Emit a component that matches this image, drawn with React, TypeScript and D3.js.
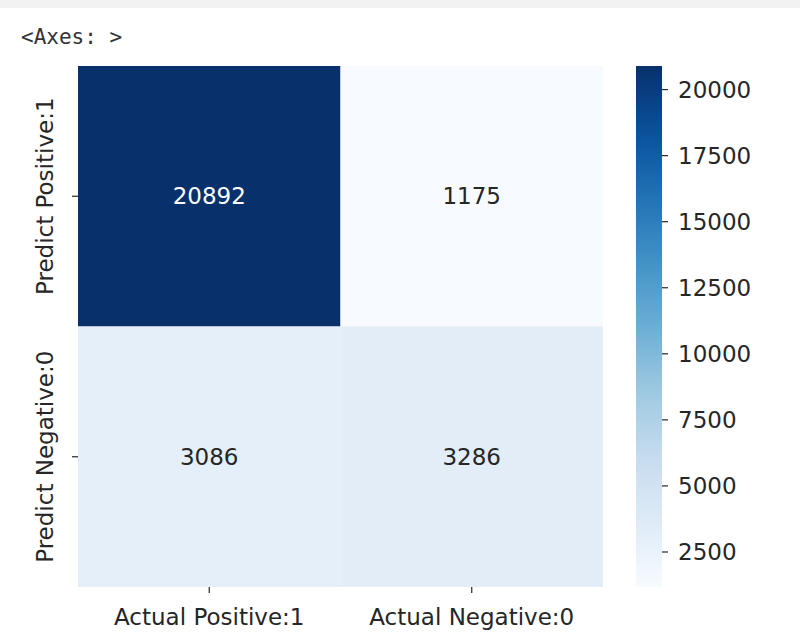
import React from "react";
import * as d3 from "d3";

const rowLabels = ["Predict Positive:1", "Predict Negative:0"];
const colLabels = ["Actual Positive:1", "Actual Negative:0"];
const row0Values = [20892, 1175];
const row1Values = [3086, 3286];
const colorbarTicks = [2500, 5000, 7500, 10000, 12500, 15000, 17500, 20000];
const bluesStops = ["#f7fbff", "#deebf7", "#c6dbef", "#9ecae1", "#6baed6", "#4292c6", "#2171b5", "#08519c", "#08306b"];

const W = 800;
const H = 644;
const left = 78, right = 603, top = 66, bottom = 587;
const cbLeft = 636, cbRight = 662;
const fontFamily = "DejaVu Sans, sans-serif";
const fs = 23;

export default function App() {
  const matrix = [row0Values, row1Values];
  const all = matrix.flat();
  const vmin = d3.min(all) as number;
  const vmax = d3.max(all) as number;
  const interp = d3.scaleLinear<string>()
    .domain(bluesStops.map((_, i) => i / (bluesStops.length - 1)))
    .range(bluesStops)
    .interpolate(d3.interpolateRgb);
  const color = (v: number) => interp((v - vmin) / (vmax - vmin));
  const lum = (v: number) => {
    const c = d3.rgb(color(v));
    const f = (x: number) => { x /= 255; return x <= 0.03928 ? x / 12.92 : Math.pow((x + 0.055) / 1.055, 2.4); };
    return 0.2126 * f(c.r) + 0.7152 * f(c.g) + 0.0722 * f(c.b);
  };

  const x = d3.scaleBand<number>().domain([0, 1]).range([left, right]);
  const y = d3.scaleBand<number>().domain([0, 1]).range([top, bottom]);
  const cbY = d3.scaleLinear().domain([vmin, vmax]).range([bottom, top]);
  const gradStops = d3.range(0, 1.0001, 0.05);

  return (
    <svg width={W} height={H} style={{ position: "absolute", left: 0, top: 0, background: "#fff" }} fontFamily={fontFamily}>
      <defs>
        <linearGradient id="cbgrad" x1="0" y1="1" x2="0" y2="0">
          {gradStops.map((t, i) => (
            <stop key={i} offset={t} stopColor={interp(t)} />
          ))}
        </linearGradient>
      </defs>
      <rect x={0} y={0} width={W} height={8} fill="#f2f2f2" />
      <text x={21} y={44} fontFamily="DejaVu Sans Mono, monospace" fontSize={21} fill="#333">{"<Axes: >"}</text>
      {matrix.map((row, ri) =>
        row.map((v, ci) => (
          <g key={`${ri}-${ci}`}>
            <rect x={x(ci)} y={y(ri)} width={x.bandwidth()} height={y.bandwidth()} fill={color(v)} />
            <text
              x={(x(ci) as number) + x.bandwidth() / 2}
              y={(y(ri) as number) + y.bandwidth() / 2}
              textAnchor="middle"
              dominantBaseline="central"
              fontSize={fs}
              fill={lum(v) > 0.408 ? "#262626" : "#ffffff"}
            >{v}</text>
          </g>
        ))
      )}
      {rowLabels.map((l, i) => {
        const cy = (y(i) as number) + y.bandwidth() / 2;
        return (
          <g key={l}>
            <line x1={left - 6} x2={left} y1={cy} y2={cy} stroke="#262626" strokeWidth={1.2} />
            <text transform={`translate(${left - 25},${cy}) rotate(-90)`} textAnchor="middle" fontSize={fs} fill="#262626">{l}</text>
          </g>
        );
      })}
      {colLabels.map((l, i) => {
        const cx = (x(i) as number) + x.bandwidth() / 2;
        return (
          <g key={l}>
            <line x1={cx} x2={cx} y1={bottom} y2={bottom + 6} stroke="#262626" strokeWidth={1.2} />
            <text x={cx} y={bottom + 38} textAnchor="middle" fontSize={fs} fill="#262626">{l}</text>
          </g>
        );
      })}
      <rect x={cbLeft} y={top} width={cbRight - cbLeft} height={bottom - top} fill="url(#cbgrad)" />
      {colorbarTicks.map((t) => (
        <g key={t}>
          <line x1={cbRight} x2={cbRight + 6} y1={cbY(t)} y2={cbY(t)} stroke="#262626" strokeWidth={1.2} />
          <text x={cbRight + 16} y={cbY(t)} dominantBaseline="central" fontSize={fs} fill="#262626">{t}</text>
        </g>
      ))}
    </svg>
  );
}
